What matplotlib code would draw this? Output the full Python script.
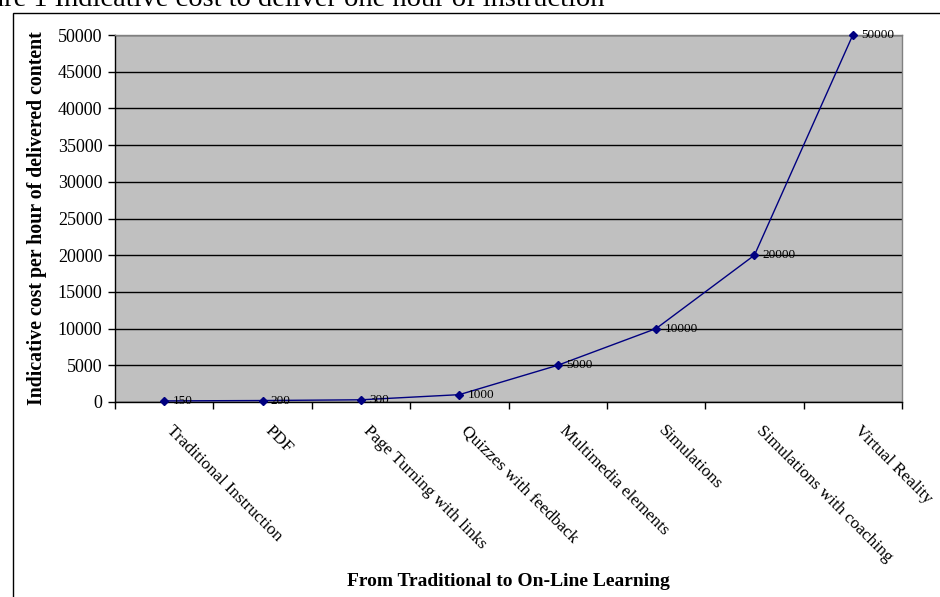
import matplotlib
matplotlib.use("Agg")
import matplotlib.pyplot as plt
from matplotlib.patches import Rectangle
from matplotlib.transforms import ScaledTranslation

categories = [
    "Traditional Instruction",
    "PDF",
    "Page Turning with links",
    "Quizzes with feedback",
    "Multimedia elements",
    "Simulations",
    "Simulations with coaching",
    "Virtual Reality",
]
costs = [150, 200, 300, 1000, 5000, 10000, 20000, 50000]
y_ticks = [0, 5000, 10000, 15000, 20000, 25000, 30000, 35000, 40000, 45000, 50000]

plt.rcParams["font.family"] = ["Liberation Serif", "DejaVu Serif"]

W, H = 940, 597
fig = plt.figure(figsize=(W / 100, H / 100), dpi=100)

# рамка вокруг рисунка (нижний край за пределами картинки)
fig.patches.append(Rectangle((12.5 / W, -0.1), 2.0, 1.1 - 12.5 / H,
                             transform=fig.transFigure, fill=False,
                             edgecolor="black", linewidth=1.0))

# заголовок, обрезанный сверху и слева
fig.text(605 / W, 1 - 6 / H, "Figure 1 Indicative cost to deliver one hour of instruction",
         ha="right", va="baseline", fontsize=20.5)

ax = fig.add_axes([115 / W, 1 - 402 / H, 787 / W, 367 / H])
ax.set_facecolor("#C0C0C0")

x = [i + 0.5 for i in range(len(categories))]
ax.plot(x, costs, color="#000080", linewidth=1.0, marker="D", markersize=3.8,
        zorder=3, clip_on=False)
for xi, c in zip(x, costs):
    ax.annotate(str(c), (xi, c), xytext=(6, 0), textcoords="offset points",
                va="center", ha="left", fontsize=9.5, color="black", zorder=4)

ax.set_xlim(0, len(categories))
ax.set_ylim(0, 50000)
ax.set_yticks(y_ticks)
ax.set_yticklabels([str(t) for t in y_ticks], fontsize=13)
ax.yaxis.grid(True, color="black", linewidth=1.0)
ax.set_axisbelow(True)

ax.set_xticks(range(len(categories) + 1))
ax.set_xticklabels([])
ax.set_xticks(x, minor=True)
ax.set_xticklabels(categories, minor=True, rotation=-45, ha="left", va="top",
                   rotation_mode="anchor", fontsize=12.5)
ax.tick_params(axis="x", which="minor", length=0, pad=15)
ax.tick_params(axis="x", which="major", direction="out", length=5, width=1)
ax.tick_params(axis="y", direction="out", length=5, width=1, pad=4)

# сдвигаем подписи категорий немного вправо
shift = ScaledTranslation(10 / 100, 0, fig.dpi_scale_trans)
for lbl in ax.get_xticklabels(minor=True):
    lbl.set_transform(lbl.get_transform() + shift)

for side in ["top", "right"]:
    ax.spines[side].set_color("#808080")
    ax.spines[side].set_linewidth(1.0)
for side in ["left", "bottom"]:
    ax.spines[side].set_color("black")
    ax.spines[side].set_linewidth(1.0)

ax.set_ylabel("Indicative cost per hour of delivered content", fontsize=14.3,
              fontweight="bold")
ax.yaxis.set_label_coords(-0.086, 0.5)

fig.text(508 / W, 1 - 581 / H, "From Traditional to On-Line Learning",
         ha="center", va="center", fontsize=14, fontweight="bold")

fig.savefig("out.png", dpi=100)
